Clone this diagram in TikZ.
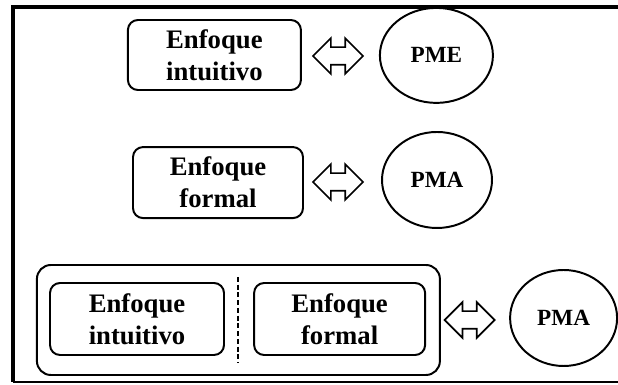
\documentclass[tikz,border=0pt]{standalone}
\usepackage{fontspec}
\setmainfont{Liberation Serif}
\usetikzlibrary{shapes.geometric,shapes.arrows}

\begin{document}
\begin{tikzpicture}
		[b/.style= {draw,line width=1.4pt,rounded corners=0.25cm,inner sep=0pt,align=center,
			font=\fontsize{19}{22.7}\selectfont\bfseries},
		p/.style= {draw,line width=1.4pt,ellipse,inner sep=0pt,font=\fontsize{16.5}{19}\selectfont\bfseries},
		a/.style= {draw,line width=1.2pt,double arrow,double arrow tip angle=90,
			double arrow head extend=0.225cm,inner sep=0.2cm,minimum height=1.25cm}]

		\useasboundingbox (0,0) rectangle (15.45,9.625);

		% frame
		\draw[line width=2.2pt] (0.325,0.075) -- (0.325,9.45) -- (15.6,9.45);
		\draw[line width=1pt] (0.325,0.075) -- (15.6,0.075);

		\node[b,minimum width=4.325cm,minimum height=1.75cm] (e1) at (5.36,8.25) {Enfoque\\intuitivo};
		\node[a] (a1) at (8.45,8.225) {};
		\node[p,minimum width=2.825cm,minimum height=2.375cm] (p1) at (10.91,8.24) {PME};

		\node[b,minimum width=4.25cm,minimum height=1.775cm] (e2) at (5.45,5.06) {Enfoque\\formal};
		\node[a] (a2) at (8.45,5.075) {};
		\node[p,minimum width=2.75cm,minimum height=2.4cm] (p2) at (10.925,5.125) {PMA};

		\node[draw,line width=1.4pt,rounded corners=0.35cm,minimum width=10.075cm,minimum height=2.75cm] (e3) at (5.96,1.625) {};
		\node[b,minimum width=4.35cm,minimum height=1.8cm] (e3a) at (3.425,1.65) {Enfoque\\intuitivo};
		\node[b,minimum width=4.275cm,minimum height=1.8cm] (e3b) at (8.49,1.65) {Enfoque\\formal};
		\draw[line width=1.5pt,dash pattern=on 3.5pt off 2pt] (5.95,2.7) -- (5.95,0.55);
		\node[a] (a3) at (11.74,1.625) {};
		\node[p,minimum width=2.675cm,minimum height=2.4cm] (p3) at (14.09,1.675) {PMA};

	\end{tikzpicture}
\end{document}
